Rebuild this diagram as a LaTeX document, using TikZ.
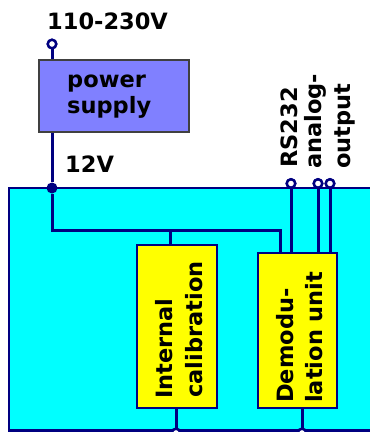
\documentclass[tikz,border=0pt]{standalone}
\usepackage{fontspec}
\setmainfont{DejaVu Sans}
\definecolor{wire}{HTML}{000080}
\definecolor{psfill}{HTML}{8080FF}
\definecolor{psdraw}{HTML}{404040}
\definecolor{casefill}{HTML}{00FFFF}
\definecolor{unitfill}{HTML}{FFFF00}
\begin{document}
\begin{tikzpicture}[x=1pt,y=-1pt,
  lbl/.style={inner sep=0pt,anchor=base west,font=\fontsize{22.5}{26}\selectfont\bfseries},
  vlbl/.style={lbl,rotate=90},
  wireline/.style={draw=wire,line width=3pt},
  term/.style={circle,draw=wire,fill=white,line width=2.4pt,inner sep=0pt,minimum size=8.5pt},
  junc/.style={circle,fill=wire,inner sep=0pt,minimum size=11pt},
  unitbox/.style={draw=wire,fill=unitfill,line width=2.8pt,inner sep=0pt}]
\useasboundingbox (0,0) rectangle (370,432);
% housing
\fill[casefill,draw=wire,line width=2.8pt] (9,188) rectangle (385,430.5);
% power supply
\node[draw=psdraw,fill=psfill,line width=2.6pt,inner sep=0pt,minimum width=150pt,minimum height=72pt] (ps) at (114,96) {};
% units
\node[unitbox,minimum width=80pt,minimum height=163pt] (cal) at (177,326.5) {};
\node[unitbox,minimum width=79pt,minimum height=155pt] (dem) at (297.5,330.5) {};
% terminals and junction
\node[term] (tin) at (52,44) {};
\node[junc] (j12) at (52,188) {};
\node[term] (trs) at (291,183.5) {};
\node[term] (tan1) at (318,183.5) {};
\node[term] (tan2) at (330,183.5) {};
\node[term] (tb1) at (176,433) {};
\node[term] (tb2) at (302,433) {};
\coordinate (c1) at (52,230);
\coordinate (c2) at (280,230);
\coordinate (c3) at (170,230);
% wires
\draw[wireline] (tin) -- (tin |- ps.north);
\draw[wireline] (tin |- ps.south) -- (j12);
\draw[wireline] (j12) -- (c1) -- (c2) -- (c2 |- dem.north);
\draw[wireline] (c3) -- (c3 |- cal.north);
\draw[wireline] (trs) -- (trs |- dem.north);
\draw[wireline] (tan1) -- (tan1 |- dem.north);
\draw[wireline] (tan2) -- (tan2 |- dem.north);
\draw[wireline] (tb1 |- cal.south) -- (tb1);
\draw[wireline] (tb2 |- dem.south) -- (tb2);
\node[term] at (tin) {};
\node[term] at (trs) {};
\node[term] at (tan1) {};
\node[term] at (tan2) {};
\node[term] at (tb1) {};
\node[term] at (tb2) {};
% labels
\node[lbl] (lin) at (47,29) {110-230V};
\node[lbl] (lps1) at (67,87) {power};
\node[lbl] (lps2) at (67,113) {supply};
\node[lbl] (l12) at (65,172) {12V};
\node[vlbl] (lrs) at (297,168) {RS232};
\node[vlbl] (lan1) at (321,169) {analog-};
\node[vlbl] (lan2) at (350,169) {output};
\node[vlbl] (lcal1) at (172,399) {Internal};
\node[vlbl] (lcal2) at (202,398) {calibration};
\node[vlbl] (ldem1) at (293,403) {Demodu-};
\node[vlbl] (ldem2) at (322,403) {lation unit};
\end{tikzpicture}
\end{document}
